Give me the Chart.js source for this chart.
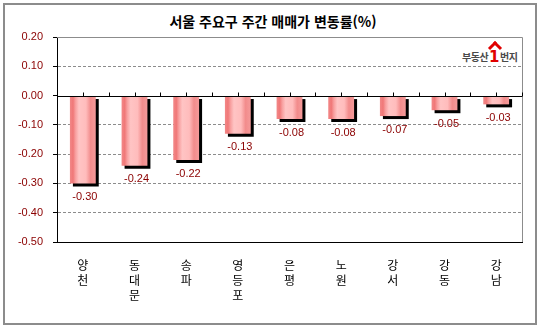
<!DOCTYPE html>
<html lang="ko">
<head>
<meta charset="utf-8">
<script src="https://cdn.jsdelivr.net/npm/chart.js@4.4.1/dist/chart.umd.min.js"></script>
<style>
    html, body { margin: 0; padding: 0; background: #fff; }
    #wrap { position: relative; width: 539px; height: 328px; }
    #frame { position: absolute; left: 3px; top: 3px; width: 530px; height: 318px; border: 2px solid #8c8c8c; }
    #title {
        position: absolute; left: 0; top: 11px; width: 546px; text-align: center;
        font: bold 14px "Noto Sans CJK KR", sans-serif; color: #000;
    }
    #logo {
        position: absolute; left: 462px; top: 47px;
        font: bold 10px "Noto Sans CJK KR", sans-serif; color: #4a4a4a; white-space: nowrap;
        letter-spacing: -0.5px;
    }
    #logo .one {
        position: relative; display: inline-block; margin: 0 1px;
        color: #e00000; font: 900 15px "DejaVu Sans", sans-serif; top: 1px;
    }
    #logo .one::before {
        content: ''; position: absolute; left: 1px; top: -5px; width: 7px; height: 7px;
        border-left: 3px solid #e00000; border-top: 3px solid #e00000; transform: rotate(45deg);
    }
    canvas { position: absolute; left: 0; top: 0; }
</style>
</head>
<body>
<div id="wrap">
    <div id="frame"></div>
    <div id="title">서울 주요구 주간 매매가 변동률(%)</div>
    <div id="logo">부동산<span class="one">1</span>번지</div>
    <canvas id="chart" width="539" height="328"></canvas>
</div>
<script>
// 구별 주간 매매가 변동률
const districts = [['양', '천'], ['동', '대', '문'], ['송', '파'], ['영', '등', '포'], ['은', '평'], ['노', '원'], ['강', '서'], ['강', '동'], ['강', '남']];
const changes = [-0.30, -0.24, -0.22, -0.13, -0.08, -0.08, -0.07, -0.05, -0.03];
const yTicks = [0.20, 0.10, 0.00, -0.10, -0.20, -0.30, -0.40, -0.50];

const PLOT_LEFT = 57;
const PLOT_BOTTOM = 242;
const BAR_PCT = 0.5;

// 막대 가로 그라데이션 (가장자리 진하게, 가운데 밝게)
function barGradient(ctx) {
    const chart = ctx.chart;
    const xs = chart.scales.x;
    if (!xs || xs.width === undefined) return '#f8a8a8';
    const cx = xs.getPixelForValue(ctx.dataIndex);
    const w = xs.width / districts.length * BAR_PCT;
    const g = chart.ctx.createLinearGradient(cx - w / 2, 0, cx + w / 2, 0);
    g.addColorStop(0, '#f28888');
    g.addColorStop(0.12, '#f07878');
    g.addColorStop(0.22, '#f8a0a0');
    g.addColorStop(0.35, '#ffc4c4');
    g.addColorStop(0.62, '#ffbcbc');
    g.addColorStop(0.8, '#f28c8c');
    g.addColorStop(1, '#f59a9a');
    return g;
}

// 막대 그림자 + 축/테두리 + 값 라벨
const decoPlugin = {
    id: 'deco',
    beforeDatasetDraw(chart) {
        const c = chart.ctx;
        c.save();
        c.shadowColor = '#000';
        c.shadowOffsetX = 3;
        c.shadowOffsetY = 3;
        c.shadowBlur = 0;
    },
    afterDatasetDraw(chart) {
        chart.ctx.restore();
    },
    afterDatasetsDraw(chart) {
        const c = chart.ctx;
        const a = chart.chartArea;
        const xs = chart.scales.x;
        const ys = chart.scales.y;
        const y0 = Math.round(ys.getPixelForValue(0)) + 0.5;

        c.save();
        // 위/오른쪽 테두리
        c.strokeStyle = '#8c8c8c';
        c.lineWidth = 1;
        c.beginPath();
        c.moveTo(a.left, Math.round(a.top) + 0.5);
        c.lineTo(Math.round(a.right) + 0.5, Math.round(a.top) + 0.5);
        c.lineTo(Math.round(a.right) + 0.5, a.bottom);
        c.stroke();

        // 0 기준선과 눈금
        c.strokeStyle = '#000';
        c.beginPath();
        c.moveTo(a.left, y0);
        c.lineTo(a.right, y0);
        const step = xs.width / districts.length / 2;
        for (let k = 1; k <= districts.length * 2; k++) {
            const x = Math.round(a.left + step * k) + 0.5;
            c.moveTo(x, y0);
            c.lineTo(x, y0 - 4);
        }
        c.stroke();

        // 값 라벨
        c.fillStyle = '#8b0000';
        c.font = '11px "Liberation Sans", Arial, sans-serif';
        c.textAlign = 'center';
        c.textBaseline = 'top';
        chart.getDatasetMeta(0).data.forEach((bar, i) => {
            c.fillText(changes[i].toFixed(2), bar.x + 2, bar.y + 8);
        });
        c.restore();
    }
};

const chart = new Chart(document.getElementById('chart'), {
    type: 'bar',
    data: {
        labels: districts,
        datasets: [{
            data: changes,
            backgroundColor: barGradient,
            borderWidth: 0,
            barPercentage: BAR_PCT,
            categoryPercentage: 1
        }]
    },
    options: {
        responsive: false,
        animation: false,
        events: [],
        layout: { padding: { left: 0, top: 37, right: 17, bottom: 0 } },
        plugins: {
            legend: { display: false },
            tooltip: { enabled: false }
        },
        scales: {
            x: {
                grid: { display: false },
                border: { color: '#000', width: 1 },
                ticks: {
                    color: '#000',
                    padding: 8,
                    maxRotation: 0,
                    font: { family: '"Noto Sans CJK KR", sans-serif', size: 12, lineHeight: 1.25 }
                },
                afterFit(scale) { scale.height = 328 - PLOT_BOTTOM; }
            },
            y: {
                min: -0.5,
                max: 0.2,
                afterBuildTicks(scale) { scale.ticks = yTicks.map(v => ({ value: v })); },
                grid: {
                    color: ctx => {
                        const v = ctx.tick ? Math.round(ctx.tick.value * 100) : null;
                        return (v === 0 || v === 20 || v === -50) ? 'rgba(0,0,0,0)' : '#8c8c8c';
                    },
                    tickColor: '#000',
                    tickLength: 4,
                    tickBorderDash: [],
                    lineWidth: 1
                },
                border: { color: '#000', width: 1, dash: [3, 2] },
                ticks: {
                    color: '#8b0000',
                    padding: 10,
                    font: { family: '"Liberation Sans", Arial, sans-serif', size: 11 },
                    callback: v => Number(v).toFixed(2)
                },
                afterFit(scale) { scale.width = PLOT_LEFT; }
            }
        }
    },
    plugins: [decoPlugin]
});
chart.update();
</script>
</body>
</html>
